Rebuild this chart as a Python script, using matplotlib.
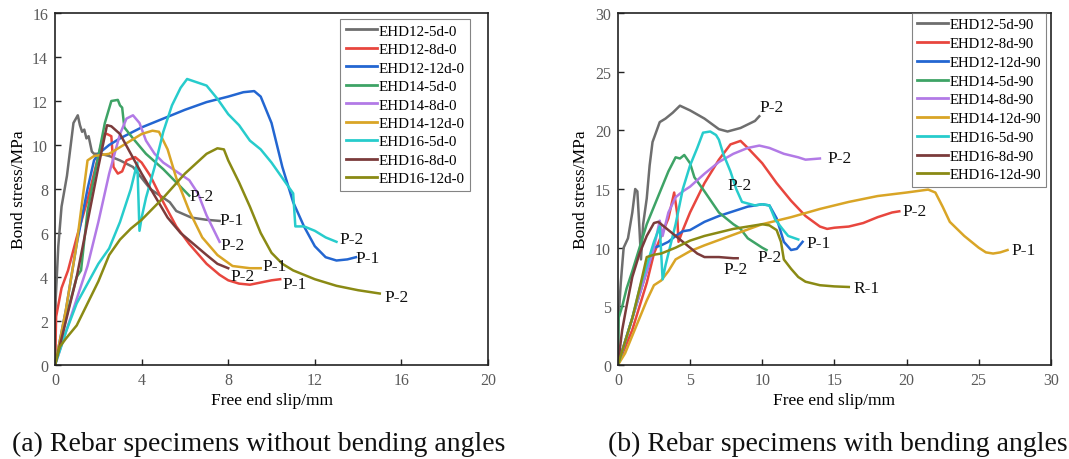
import matplotlib
matplotlib.use("Agg")
import matplotlib.pyplot as plt

plt.rcParams['font.family'] = ['Liberation Serif', 'DejaVu Serif']

# ---------------- series colours ----------------
colors = ['#6e6e6e', '#e8463e', '#2366d1', '#3ea366', '#b27ae6',
          '#d9a526', '#27cccc', '#7b3b3b', '#8a8a14']

# ---------------- (a) specimens without bending angle ----------------
names_a = ['EHD12-5d-0', 'EHD12-8d-0', 'EHD12-12d-0', 'EHD14-5d-0', 'EHD14-8d-0',
           'EHD14-12d-0', 'EHD16-5d-0', 'EHD16-8d-0', 'EHD16-12d-0']

slip_a_12_5 = [0, 0.03, 0.15, 0.3, 0.55, 0.85, 1.05, 1.15, 1.25, 1.35, 1.45, 1.55, 1.7, 1.8, 2.1, 2.5,
               3.0, 3.6, 4.4, 5.0, 5.3, 5.6, 6.3, 7.0, 7.6]
bond_a_12_5 = [0, 3.0, 5.4, 7.2, 8.6, 11.0, 11.35, 10.9, 10.6, 10.7, 10.3, 10.4, 9.7, 9.6, 9.6, 9.5,
               9.3, 9.0, 8.0, 7.6, 7.4, 7.0, 6.7, 6.6, 6.55]

slip_a_12_8 = [0, 0.05, 0.3, 0.6, 1.0, 1.5, 2.0, 2.25, 2.4, 2.6, 2.7, 2.9, 3.1, 3.3, 3.7, 4.0, 4.4,
               5.0, 5.6, 6.2, 7.0, 7.6, 8.0, 8.5, 9.0, 9.5, 10.0, 10.4]
bond_a_12_8 = [0, 2.2, 3.5, 4.3, 5.8, 7.5, 9.5, 10.5, 10.5, 10.4, 9.0, 8.7, 8.8, 9.3, 9.45, 9.2, 8.6,
               7.4, 6.3, 5.5, 4.6, 4.1, 3.85, 3.7, 3.65, 3.75, 3.85, 3.9]

slip_a_12_12 = [0, 0.5, 1.0, 1.5, 1.8, 2.0, 2.5, 3.0, 4.0, 5.0, 6.0, 7.0, 8.0, 8.7, 9.2, 9.5,
                10.0, 10.5, 11.0, 11.5, 12.0, 12.5, 13.0, 13.5, 13.9]
bond_a_12_12 = [0, 2.5, 5.5, 8.0, 9.3, 9.6, 10.0, 10.3, 10.8, 11.2, 11.6, 11.95, 12.2, 12.4, 12.45, 12.2,
                11.0, 9.0, 7.4, 6.3, 5.4, 4.9, 4.75, 4.8, 4.9]

slip_a_14_5 = [0, 0.6, 1.0, 1.2, 1.5, 2.0, 2.3, 2.6, 2.9, 3.0, 3.1, 3.2, 3.6, 4.2, 5.0, 5.6, 6.2]
bond_a_14_5 = [0, 2.5, 4.0, 4.3, 7.0, 9.5, 11.0, 12.0, 12.05, 11.8, 11.7, 10.8, 10.3, 9.6, 8.9, 8.3, 7.7]

slip_a_14_8 = [0, 0.5, 1.0, 1.5, 2.0, 2.5, 3.0, 3.3, 3.6, 3.9, 4.2, 4.6, 5.0, 5.6, 6.2, 6.6,
               7.0, 7.5, 7.6]
bond_a_14_8 = [0, 1.5, 3.0, 4.5, 6.5, 8.7, 10.5, 11.2, 11.35, 11.0, 10.2, 9.6, 9.2, 8.8, 8.4, 7.8,
               6.8, 5.8, 5.6]

slip_a_14_12 = [0, 0.5, 1.0, 1.5, 1.8, 2.5, 3.0, 3.5, 4.0, 4.5, 4.8, 5.2, 5.6, 6.2, 6.8, 7.5,
                8.2, 9.0, 9.5]
bond_a_14_12 = [0, 2.5, 5.5, 9.3, 9.5, 9.6, 9.9, 10.2, 10.5, 10.65, 10.6, 9.8, 8.5, 7.0, 5.8, 5.0,
                4.5, 4.4, 4.4]

slip_a_16_5 = [0, 0.5, 1.0, 1.5, 2.0, 2.5, 3.0, 3.5, 3.8, 3.9, 4.0, 4.2, 4.6, 5.0, 5.4, 5.8,
               6.1, 6.4, 7.0, 7.5, 8.0, 8.5, 9.0, 9.5, 10.0, 10.5, 11.0, 11.1, 11.5, 12.0, 12.5, 13.0]
bond_a_16_5 = [0, 1.5, 2.8, 3.7, 4.6, 5.3, 6.5, 8.0, 9.2, 6.1, 6.7, 7.6, 9.0, 10.6, 11.8, 12.6,
               13.0, 12.9, 12.7, 12.1, 11.4, 10.9, 10.2, 9.8, 9.2, 8.5, 7.8, 6.3, 6.3, 6.1, 5.8, 5.6]

slip_a_16_8 = [0, 0.5, 1.0, 1.5, 2.0, 2.4, 2.6, 3.0, 3.5, 4.0, 4.6, 5.2, 5.8, 6.4, 7.0, 7.5, 8.0]
bond_a_16_8 = [0, 2.0, 4.0, 6.5, 9.0, 10.9, 10.85, 10.5, 9.6, 8.7, 7.7, 6.7, 6.0, 5.5, 5.0, 4.6, 4.4]

slip_a_16_12 = [0, 0.2, 0.5, 1.0, 1.5, 2.0, 2.5, 3.0, 3.5, 4.0, 5.0, 6.0, 7.0, 7.5, 7.8, 8.0,
                8.5, 9.0, 9.5, 10.0, 10.5, 11.0, 12.0, 13.0, 14.0, 15.0]
bond_a_16_12 = [0, 0.8, 1.2, 1.8, 2.8, 3.8, 5.0, 5.7, 6.2, 6.6, 7.6, 8.7, 9.6, 9.85, 9.8, 9.3,
                8.3, 7.2, 6.0, 5.1, 4.6, 4.3, 3.9, 3.6, 3.4, 3.25]

slips_a = [slip_a_12_5, slip_a_12_8, slip_a_12_12, slip_a_14_5, slip_a_14_8,
           slip_a_14_12, slip_a_16_5, slip_a_16_8, slip_a_16_12]
bonds_a = [bond_a_12_5, bond_a_12_8, bond_a_12_12, bond_a_14_5, bond_a_14_8,
           bond_a_14_12, bond_a_16_5, bond_a_16_8, bond_a_16_12]

# failure-mode tags: (text, slip, stress)
tags_a = [('P-1', 7.6, 6.6), ('P-2', 6.2, 7.7), ('P-2', 7.65, 5.45), ('P-1', 13.9, 4.85),
          ('P-2', 13.15, 5.75), ('P-1', 9.6, 4.5), ('P-2', 8.1, 4.05), ('P-1', 10.5, 3.7),
          ('P-2', 15.2, 3.1)]

# ---------------- (b) specimens with 90 degree bend ----------------
names_b = ['EHD12-5d-90', 'EHD12-8d-90', 'EHD12-12d-90', 'EHD14-5d-90', 'EHD14-8d-90',
           'EHD14-12d-90', 'EHD16-5d-90', 'EHD16-8d-90', 'EHD16-12d-90']

slip_b_12_5 = [0, 0.05, 0.2, 0.4, 0.7, 1.0, 1.2, 1.35, 1.5, 1.6, 1.75, 2.0, 2.2, 2.4, 2.9, 3.3,
               3.8, 4.3, 5.0, 6.0, 7.0, 7.6, 8.5, 9.0, 9.5, 9.8]
bond_b_12_5 = [0, 4.0, 7.0, 10.0, 10.8, 13.0, 15.0, 14.8, 11.5, 9.0, 12.0, 14.2, 17.0, 19.0, 20.7, 21.0,
               21.5, 22.1, 21.7, 21.0, 20.1, 19.9, 20.2, 20.5, 20.8, 21.2]

slip_b_12_8 = [0, 0.5, 1.0, 1.5, 2.0, 2.5, 3.0, 3.5, 3.9, 4.1, 4.2, 4.5, 5.0, 6.0, 7.0, 7.8,
               8.5, 9.0, 10.0, 11.0, 12.0, 13.0, 14.0, 14.5, 15.0, 16.0, 17.0, 18.0, 19.0, 19.5]
bond_b_12_8 = [0, 1.5, 3.0, 5.0, 7.0, 9.5, 11.0, 12.5, 14.7, 13.0, 10.5, 11.5, 13.0, 15.5, 17.5, 18.8,
               19.1, 18.5, 17.2, 15.5, 14.0, 12.7, 11.8, 11.6, 11.7, 11.8, 12.1, 12.6, 13.0, 13.1]

slip_b_12_12 = [0, 0.5, 1.0, 1.5, 2.0, 2.5, 3.0, 3.5, 4.0, 4.5, 5.0, 6.0, 7.0, 8.0, 9.0, 10.0,
                10.5, 11.0, 11.5, 12.0, 12.4, 12.8]
bond_b_12_12 = [0, 2.0, 4.0, 6.0, 8.0, 10.0, 10.2, 10.5, 11.0, 11.4, 11.5, 12.2, 12.7, 13.1, 13.5, 13.7,
                13.6, 12.5, 10.5, 9.8, 9.9, 10.5]

slip_b_14_5 = [0, 0.05, 0.3, 0.6, 1.0, 1.5, 2.0, 2.5, 3.0, 3.5, 4.0, 4.3, 4.6, 5.0, 5.3, 6.0,
               7.0, 8.0, 8.5, 9.0, 9.5, 10.0, 10.3]
bond_b_14_5 = [0, 4.0, 5.0, 6.5, 8.0, 10.0, 12.0, 13.5, 15.0, 16.5, 17.7, 17.6, 17.9, 17.2, 16.0, 14.8,
               13.0, 12.0, 11.6, 10.8, 10.4, 10.0, 9.8]

slip_b_14_8 = [0, 0.5, 1.0, 1.5, 2.0, 2.5, 2.9, 3.1, 3.5, 4.0, 4.5, 5.0, 6.0, 7.0, 8.0, 9.0,
               9.8, 10.5, 11.5, 12.5, 13.0, 14.0]
bond_b_14_8 = [0, 2.0, 4.0, 6.0, 8.0, 10.0, 12.3, 11.0, 13.0, 14.3, 14.8, 15.2, 16.3, 17.3, 18.0, 18.5,
               18.7, 18.5, 18.0, 17.7, 17.5, 17.6]

slip_b_14_12 = [0, 0.5, 1.0, 1.5, 2.0, 2.5, 3.0, 3.5, 4.0, 5.0, 6.0, 8.0, 10.0, 12.0, 14.0, 16.0,
                18.0, 20.0, 21.5, 22.0, 22.5, 23.0, 24.0, 25.0, 25.5, 26.0, 26.5, 27.0]
bond_b_14_12 = [0, 1.0, 2.5, 4.0, 5.5, 6.8, 7.2, 8.0, 9.0, 9.7, 10.2, 11.1, 12.0, 12.6, 13.3, 13.9,
                14.4, 14.7, 14.95, 14.7, 13.5, 12.2, 11.0, 10.0, 9.6, 9.5, 9.6, 9.8]

slip_b_16_5 = [0, 0.5, 1.0, 1.5, 2.0, 2.5, 2.9, 3.1, 3.3, 3.8, 4.0, 4.5, 5.0, 5.5, 5.9, 6.4,
               6.8, 7.0, 7.3, 7.8, 8.2, 8.6, 9.5, 10.0, 10.5, 10.9, 11.4, 11.8, 12.5]
bond_b_16_5 = [0, 2.0, 4.0, 6.5, 8.5, 10.5, 11.8, 7.3, 8.5, 11.0, 12.0, 15.0, 17.0, 18.5, 19.8, 19.9,
               19.6, 19.2, 18.0, 16.5, 15.0, 13.9, 13.6, 13.7, 13.6, 12.4, 11.6, 11.0, 10.7]

slip_b_16_8 = [0, 0.3, 0.6, 1.0, 1.5, 2.0, 2.5, 2.8, 3.2, 4.0, 5.0, 5.5, 6.0, 7.0, 8.0, 8.3]
bond_b_16_8 = [0, 3.0, 5.0, 7.5, 9.5, 11.0, 12.1, 12.2, 11.8, 11.0, 10.0, 9.5, 9.2, 9.2, 9.1, 9.1]

slip_b_16_12 = [0, 0.5, 1.0, 1.5, 2.0, 2.5, 3.0, 4.0, 5.0, 6.0, 7.0, 8.0, 9.0, 10.0, 10.5, 11.0,
                11.3, 11.5, 12.0, 12.5, 13.0, 14.0, 15.0, 16.0]
bond_b_16_12 = [0, 2.0, 4.0, 6.5, 9.2, 9.4, 9.5, 10.0, 10.6, 11.0, 11.3, 11.6, 11.8, 12.0, 11.9, 11.5,
                10.5, 9.0, 8.2, 7.5, 7.1, 6.8, 6.7, 6.65]

slips_b = [slip_b_12_5, slip_b_12_8, slip_b_12_12, slip_b_14_5, slip_b_14_8,
           slip_b_14_12, slip_b_16_5, slip_b_16_8, slip_b_16_12]
bonds_b = [bond_b_12_5, bond_b_12_8, bond_b_12_12, bond_b_14_5, bond_b_14_8,
           bond_b_14_12, bond_b_16_5, bond_b_16_8, bond_b_16_12]

tags_b = [('P-2', 9.8, 22.0), ('P-2', 14.5, 17.6), ('P-2', 7.6, 15.3), ('P-2', 19.7, 13.1),
          ('P-1', 13.1, 10.4), ('P-1', 27.3, 9.8), ('P-2', 9.65, 9.2), ('P-2', 7.3, 8.2),
          ('R-1', 16.3, 6.6)]

captions = ['(a) Rebar specimens without bending angles',
            '(b) Rebar specimens with bending angles']

# ---------------- drawing ----------------
fig = plt.figure(figsize=(10.69, 4.60), dpi=100)
ax_a = fig.add_axes([0.0515, 0.2043, 0.405, 0.7653])
ax_b = fig.add_axes([0.578, 0.2043, 0.405, 0.7653])


def draw_panel(ax, names, slips, bonds, tags, xmax, xstep, ymax, ystep,
               legend_anchor, legend_size, legend_gap):
    for name, xs, ys, c in zip(names, slips, bonds, colors):
        ax.plot(xs, ys, color=c, lw=1.8, label=name, solid_joinstyle='round')
    for txt, x, y in tags:
        ax.text(x, y, txt, fontsize=12.5, va='center', ha='left', color='#111111')
    ax.set_xlim(0, xmax)
    ax.set_ylim(0, ymax)
    ax.set_xticks(range(0, xmax + 1, xstep))
    ax.set_yticks(range(0, ymax + 1, ystep))
    ax.tick_params(direction='in', length=4, width=1.0, labelsize=11.5,
                   labelcolor='#5a5a5a', color='#222222', pad=5)
    for s in ax.spines.values():
        s.set_linewidth(1.2)
        s.set_color('#222222')
    ax.set_xlabel('Free end slip/mm', fontsize=12.5, labelpad=3)
    ax.set_ylabel('Bond stress/MPa', fontsize=12.5, labelpad=4)
    leg = ax.legend(loc='upper right', bbox_to_anchor=legend_anchor, fontsize=legend_size,
                    frameon=True, fancybox=False, handlelength=2.1, handletextpad=0.1,
                    labelspacing=legend_gap, borderpad=0.35, borderaxespad=0.0)
    leg.get_frame().set_edgecolor('#666666')
    leg.get_frame().set_linewidth(0.8)
    for line in leg.get_lines():
        line.set_linewidth(2.0)


draw_panel(ax_a, names_a, slips_a, bonds_a, tags_a, 20, 4, 16, 2,
           (0.958, 0.983), 10.8, 0.33)
draw_panel(ax_b, names_b, slips_b, bonds_b, tags_b, 30, 5, 30, 5,
           (0.99, 1.0), 10.6, 0.37)

fig.text(0.242, 0.033, captions[0], fontsize=20, ha='center', va='center', color='#111111')
fig.text(0.784, 0.033, captions[1], fontsize=20, ha='center', va='center', color='#111111')

fig.savefig('out.png', dpi=100, facecolor='white')
